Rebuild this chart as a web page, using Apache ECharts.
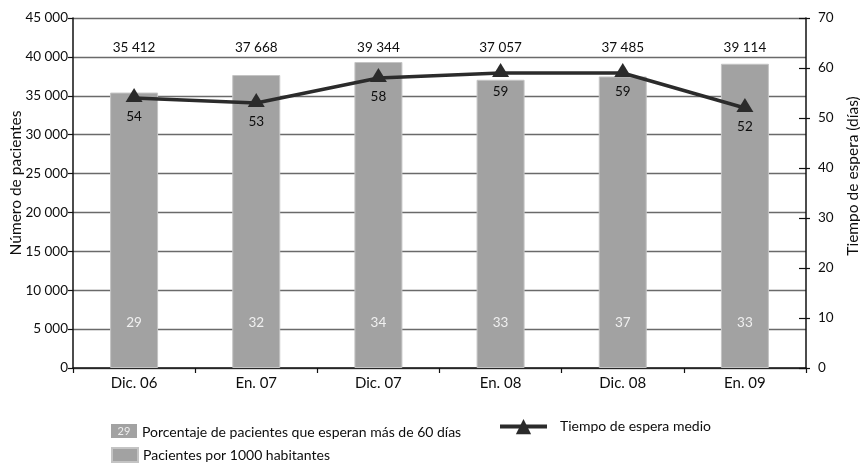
<!DOCTYPE html>
<html>
<head>
<meta charset="utf-8">
<script src="https://cdn.jsdelivr.net/npm/echarts@6/dist/echarts.min.js"></script>
<style>
  html, body { margin: 0; padding: 0; background: #fff; }
  #chart { width: 860px; height: 463px; }
</style>
</head>
<body>
<div id="chart"></div>
<script>
// Pacientes en lista de espera y tiempo de espera medio
const categories = ['Dic. 06', 'En. 07', 'Dic. 07', 'En. 08', 'Dic. 08', 'En. 09'];
const patients = [35412, 37668, 39344, 37057, 37485, 39114];
const pctOver60 = [29, 32, 34, 33, 37, 33];
const waitDays = [54, 53, 58, 59, 59, 52];

const FONT = 'Lato';
const INK = '#0d0d0d';
const fmtThousands = v => {
  const s = String(Math.round(v));
  return s.length > 3 ? s.slice(0, s.length - 3) + ' ' + s.slice(-3) : s;
};

const chart = echarts.init(document.getElementById('chart'));
chart.setOption({
  backgroundColor: '#ffffff',
  animation: false,
  textStyle: { fontFamily: FONT },
  grid: { left: 73, right: 54, top: 18, bottom: 95, outerBoundsMode: 'none', containLabel: false },
  xAxis: [
    {
      type: 'category',
      data: categories,
      position: 'bottom',
      boundaryGap: true,
      axisLine: { lineStyle: { color: '#111', width: 1.5 } },
      axisTick: { show: true, length: 5, lineStyle: { color: '#111', width: 1.2 } },
      axisLabel: { color: INK, fontSize: 15, margin: 8, fontFamily: FONT },
      splitLine: { show: false }
    },
    {
      // fila de totales sobre las columnas
      type: 'category',
      data: patients.map(fmtThousands),
      position: 'top',
      axisLine: { show: false },
      axisTick: { show: false },
      axisLabel: { inside: true, margin: 23, color: INK, fontSize: 13.5, fontFamily: FONT },
      splitLine: { show: false }
    }
  ],
  yAxis: [
    {
      type: 'value',
      min: 0, max: 45000, interval: 5000,
      name: 'Número de pacientes',
      nameLocation: 'middle',
      nameGap: 49,
      nameRotate: 90,
      nameMoveOverlap: false,
      nameTextStyle: { color: INK, fontSize: 15.5, fontFamily: FONT, padding: [0, 0, 0, 20] },
      axisLine: { show: true, lineStyle: { color: '#111', width: 1.5 } },
      axisTick: { show: true, length: 5, lineStyle: { color: '#111', width: 1.2 } },
      axisLabel: { color: INK, fontSize: 13.5, margin: 5, formatter: fmtThousands, fontFamily: FONT },
      splitLine: { show: true, lineStyle: { color: '#6a6a6a', width: 1.4 } }
    },
    {
      type: 'value',
      min: 0, max: 70, interval: 10,
      position: 'right',
      name: 'Tiempo de espera (días)',
      nameLocation: 'middle',
      nameGap: 39,
      nameRotate: 90,
      nameTextStyle: { color: INK, fontSize: 15.5, fontFamily: FONT, padding: [0, 0, 0, 34] },
      axisLine: { show: true, lineStyle: { color: '#111', width: 1.5 } },
      axisTick: { show: true, length: 4, lineStyle: { color: '#111', width: 1.2 } },
      axisLabel: { color: INK, fontSize: 13.5, margin: 12, fontFamily: FONT },
      splitLine: { show: false }
    },
    {
      // marcas interiores del eje derecho
      type: 'value',
      min: 0, max: 70, interval: 10,
      position: 'right',
      axisLine: { show: false },
      axisTick: { show: true, inside: true, length: 7, lineStyle: { color: '#111', width: 1.2 } },
      axisLabel: { show: false },
      splitLine: { show: false }
    }
  ],
  series: [
    {
      name: 'Pacientes por 1000 habitantes',
      type: 'bar',
      xAxisIndex: 0,
      yAxisIndex: 0,
      data: patients,
      barWidth: 48,
      itemStyle: { color: '#a2a2a2', borderColor: '#c4c4c4', borderWidth: 1 },
      label: {
        show: true,
        position: 'insideBottom',
        distance: 38,
        color: '#f0f0f0',
        fontSize: 13.5,
        fontFamily: FONT,
        formatter: p => String(pctOver60[p.dataIndex])
      },
      z: 2
    },
    {
      name: 'Tiempo de espera medio',
      type: 'line',
      xAxisIndex: 0,
      yAxisIndex: 1,
      data: waitDays,
      symbol: 'triangle',
      symbolSize: [17, 14],
      symbolOffset: [0, -3],
      lineStyle: { color: '#2b2b2b', width: 3.5 },
      itemStyle: { color: '#2b2b2b' },
      label: {
        show: true,
        position: 'bottom',
        distance: 8,
        color: INK,
        fontSize: 13.5,
        fontFamily: FONT
      },
      z: 5
    }
  ],
  legend: [
    {
      data: ['Pacientes por 1000 habitantes'],
      left: 111, top: 447, padding: 0,
      itemWidth: 26, itemHeight: 14, itemGap: 6,
      icon: 'rect',
      textStyle: { color: INK, fontSize: 14, fontFamily: FONT },
      selectedMode: false
    },
    {
      data: ['Tiempo de espera medio'],
      left: 498, top: 419, padding: 0,
      itemWidth: 47, itemHeight: 19, itemGap: 12,
      lineStyle: { width: 4 },
      textStyle: { color: INK, fontSize: 14, fontFamily: FONT, padding: [0, 0, 0, 8] },
      selectedMode: false
    }
  ],
  graphic: [
    {
      type: 'group',
      left: 111, top: 424,
      children: [
        { type: 'rect', shape: { x: 0, y: 0, width: 26, height: 14 }, style: { fill: '#a2a2a2' } },
        { type: 'text', x: 13, y: 7, style: { text: String(pctOver60[0]), fill: '#eeeeee', fontSize: 11, fontFamily: FONT, align: 'center', verticalAlign: 'middle' } },
        { type: 'text', x: 31, y: 8, style: { text: 'Porcentaje de pacientes que esperan más de 60 días', fill: INK, fontSize: 14, fontFamily: FONT, verticalAlign: 'middle' } }
      ]
    }
  ]
});
</script>
</body>
</html>
